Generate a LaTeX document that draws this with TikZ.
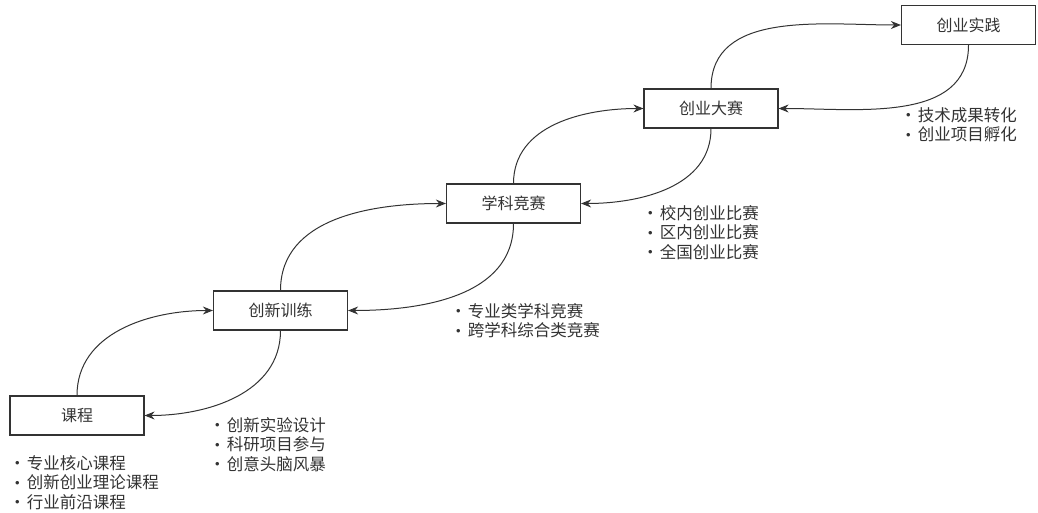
\documentclass[tikz,border=0pt]{standalone}
\usepackage{fontspec}
\setmainfont{Noto Sans CJK SC}
\newfontfamily\latinf{Liberation Sans}
\usetikzlibrary{arrows.meta}
\definecolor{ink}{HTML}{333333}
\newcommand{\bul}{\raisebox{1.5pt}{\latinf\fontsize{13}{13}\selectfont •}\hspace{7pt}}
\begin{document}
\begin{tikzpicture}[x=1pt,y=-1pt,
  stagebox/.style={draw=ink,line width=1.2pt,minimum width=134pt,minimum height=39pt,inner sep=0pt,text=ink,font=\fontsize{16}{18}\selectfont},
  itemlist/.style={anchor=north west,align=left,inner sep=0pt,text=ink,font=\fontsize{16.5}{19.5}\selectfont},
  flow/.style={draw=ink,line width=1pt,-{Stealth[length=10pt,width=8pt]}}]
\useasboundingbox (0,0) rectangle (1038,513);
\node[stagebox] (kc) at (77,415.5) {课程};
\node[stagebox] (cx) at (280.5,310.5) {创新训练};
\node[stagebox] (xk) at (513.5,203.5) {学科竞赛};
\node[stagebox] (cy) at (711,108.5) {创业大赛};
\node[stagebox] (sj) at (968.5,25) {创业实践};
\draw[flow] (kc.north) to[out=90,in=180] (cx.west);
\draw[flow] (cx.south) to[out=-90,in=0] (kc.east);
\draw[flow] (cx.north) to[out=90,in=180] (xk.west);
\draw[flow] (xk.south) to[out=-90,in=0] (cx.east);
\draw[flow] (xk.north) to[out=90,in=180] (cy.west);
\draw[flow] (cy.south) to[out=-90,in=0] (xk.east);
\draw[flow] (cy.north) to[out=90,in=180] (sj.west);
\draw[flow] (sj.south) to[out=-90,in=0] (cy.east);
\node[itemlist] (l1) at (15,455) {\bul 专业核心课程\\\bul 创新创业理论课程\\\bul 行业前沿课程};
\node[itemlist] (l2) at (215,417) {\bul 创新实验设计\\\bul 科研项目参与\\\bul 创意头脑风暴};
\node[itemlist] (l3) at (456,303) {\bul 专业类学科竞赛\\\bul 跨学科综合类竞赛};
\node[itemlist] (l4) at (648,205) {\bul 校内创业比赛\\\bul 区内创业比赛\\\bul 全国创业比赛};
\node[itemlist] (l5) at (906,107) {\bul 技术成果转化\\\bul 创业项目孵化};
\end{tikzpicture}
\end{document}
